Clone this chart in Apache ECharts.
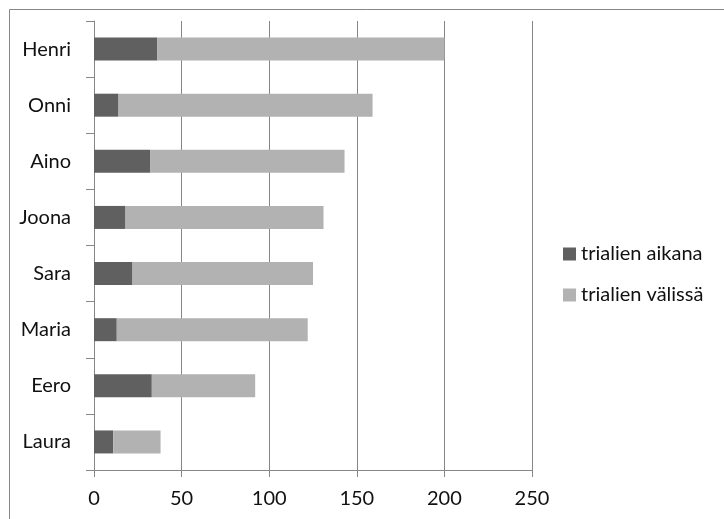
<!DOCTYPE html>
<html>
<head>
<meta charset="utf-8">
<script src="https://cdn.jsdelivr.net/npm/echarts@6/dist/echarts.min.js"></script>
<style>
  html, body { margin: 0; padding: 0; background: #fff; }
  #chart { width: 724px; height: 519px; }
</style>
</head>
<body>
<div id="chart"></div>
<script>
const names = ['Henri', 'Onni', 'Aino', 'Joona', 'Sara', 'Maria', 'Eero', 'Laura'];
const during = [36, 14, 32, 18, 22, 13, 33, 11];
const between = [164, 145, 111, 113, 103, 109, 59, 27];
const xTicks = [0, 250, 50];

const font = 'Lato';
const gray = '#868686';

const chart = echarts.init(document.getElementById('chart'));
chart.setOption({
  animation: false,
  textStyle: { fontFamily: font },
  grid: { left: 94, right: 192, top: 21, bottom: 49 },
  legend: {
    orient: 'vertical',
    left: 558,
    top: 239,
    itemWidth: 13,
    itemHeight: 13,
    itemGap: 21,
    icon: 'rect',
    textStyle: { fontFamily: font, fontSize: 20, color: '#111' },
    data: ['trialien aikana', 'trialien välissä'],
  },
  xAxis: {
    type: 'value',
    min: xTicks[0],
    max: xTicks[1],
    interval: xTicks[2],
    axisLine: { show: true, lineStyle: { color: gray } },
    axisTick: { show: true, length: 7, lineStyle: { color: gray } },
    axisLabel: { fontSize: 20, color: '#111', margin: 19 },
    splitLine: { show: true, lineStyle: { color: gray } },
  },
  yAxis: {
    type: 'category',
    inverse: true,
    data: names,
    axisLine: { show: true, lineStyle: { color: gray } },
    axisTick: { show: true, length: 8, lineStyle: { color: gray } },
    axisLabel: { fontSize: 20, color: '#111', margin: 23 },
  },
  series: [
    {
      name: 'trialien aikana',
      type: 'bar',
      stack: 'total',
      barWidth: 23,
      itemStyle: { color: '#606060' },
      data: during,
    },
    {
      name: 'trialien välissä',
      type: 'bar',
      stack: 'total',
      barWidth: 23,
      itemStyle: { color: '#b2b2b2' },
      data: between,
    },
  ],
  graphic: [
    { type: 'line', shape: { x1: 9.5, y1: 9.5, x2: 724, y2: 9.5 }, style: { stroke: gray, lineWidth: 1 } },
    { type: 'line', shape: { x1: 9.5, y1: 9.5, x2: 9.5, y2: 519 }, style: { stroke: gray, lineWidth: 1 } },
  ],
});
</script>
</body>
</html>
